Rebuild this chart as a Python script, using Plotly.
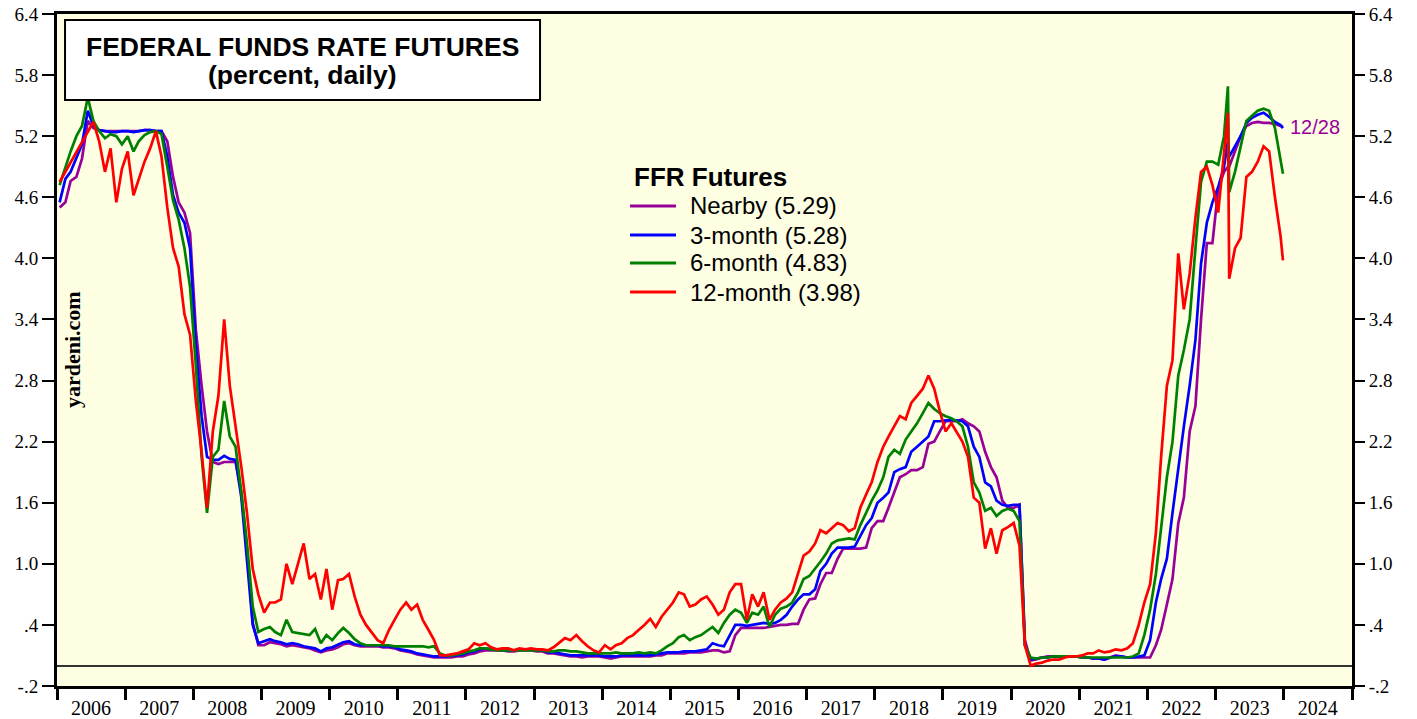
import plotly.graph_objects as go
import pandas as pd

# ---------------- data (monthly mid-points) ----------------
months = [f"{y}-{m:02d}-15" for y in range(2006, 2024) for m in range(1, 13)]
extra_dates = ["2023-03-08", "2023-12-28"]

nearby = [
    4.50, 4.55, 4.76, 4.80, 4.98, 5.35, 5.28, 5.26, 5.25, 5.25, 5.25, 5.25,
    5.25, 5.25, 5.25, 5.26, 5.26, 5.25, 5.25, 5.15, 4.80, 4.55, 4.45, 4.25,
    3.30, 2.75, 2.30, 2.00, 1.98, 2.00, 2.00, 2.00, 1.70, 1.15, 0.42, 0.20,
    0.20, 0.23, 0.22, 0.21, 0.19, 0.20, 0.19, 0.18, 0.17, 0.15, 0.13, 0.15,
    0.16, 0.18, 0.21, 0.22, 0.20, 0.19, 0.19, 0.19, 0.19, 0.18, 0.18, 0.17,
    0.15, 0.14, 0.13, 0.11, 0.10, 0.09, 0.08, 0.08, 0.08, 0.08, 0.09, 0.09,
    0.11, 0.12, 0.14, 0.15, 0.15, 0.15, 0.15, 0.14, 0.14, 0.15, 0.15, 0.15,
    0.14, 0.14, 0.12, 0.12, 0.11, 0.10, 0.09, 0.09, 0.08, 0.09, 0.09, 0.09,
    0.08, 0.07, 0.08, 0.09, 0.09, 0.09, 0.09, 0.09, 0.09, 0.10, 0.10, 0.12,
    0.12, 0.12, 0.12, 0.13, 0.13, 0.13, 0.14, 0.15, 0.15, 0.13, 0.14, 0.30,
    0.37, 0.37, 0.37, 0.37, 0.37, 0.38, 0.39, 0.40, 0.40, 0.41, 0.41, 0.55,
    0.65, 0.66, 0.80, 0.91, 0.91, 1.05, 1.15, 1.15, 1.15, 1.15, 1.16, 1.35,
    1.42, 1.42, 1.55, 1.70, 1.85, 1.88, 1.92, 1.92, 1.95, 2.18, 2.20, 2.30,
    2.40, 2.40, 2.40, 2.42, 2.38, 2.35, 2.30, 2.10, 1.95, 1.85, 1.62, 1.55,
    1.55, 1.58, 0.25, 0.05, 0.06, 0.08, 0.09, 0.09, 0.09, 0.09, 0.09, 0.09,
    0.08, 0.08, 0.07, 0.07, 0.06, 0.08, 0.10, 0.09, 0.08, 0.08, 0.08, 0.08,
    0.08, 0.20, 0.35, 0.60, 0.85, 1.40, 1.65, 2.30, 2.55, 3.40, 4.15, 4.15,
    4.68, 4.85, 4.90, 5.05, 5.20, 5.30, 5.33, 5.34, 5.33, 5.33, 5.32, 5.30,
    4.90, 5.29,
]

three_month = [
    4.55, 4.78, 4.85, 4.98, 5.12, 5.45, 5.30, 5.26, 5.25, 5.24, 5.24, 5.25,
    5.25, 5.24, 5.25, 5.26, 5.26, 5.25, 5.25, 5.00, 4.62, 4.45, 4.35, 4.10,
    3.15, 2.45, 2.05, 2.02, 2.02, 2.06, 2.03, 2.02, 1.65, 1.05, 0.40, 0.22,
    0.24, 0.26, 0.24, 0.23, 0.21, 0.22, 0.21, 0.19, 0.18, 0.17, 0.14, 0.17,
    0.18, 0.21, 0.23, 0.24, 0.21, 0.20, 0.20, 0.20, 0.20, 0.19, 0.19, 0.18,
    0.16, 0.15, 0.14, 0.12, 0.11, 0.10, 0.09, 0.09, 0.09, 0.10, 0.10, 0.11,
    0.13, 0.14, 0.16, 0.17, 0.16, 0.16, 0.15, 0.15, 0.15, 0.16, 0.16, 0.16,
    0.15, 0.15, 0.13, 0.13, 0.12, 0.11, 0.10, 0.10, 0.10, 0.10, 0.10, 0.10,
    0.09, 0.09, 0.09, 0.10, 0.10, 0.10, 0.10, 0.10, 0.10, 0.11, 0.12, 0.13,
    0.13, 0.13, 0.14, 0.14, 0.14, 0.15, 0.16, 0.22, 0.20, 0.19, 0.30, 0.40,
    0.40, 0.39, 0.40, 0.41, 0.42, 0.41, 0.42, 0.45, 0.50, 0.58, 0.65, 0.70,
    0.70, 0.75, 0.93, 1.00, 1.10, 1.16, 1.16, 1.16, 1.17, 1.28, 1.38, 1.45,
    1.60, 1.65, 1.70, 1.90, 1.93, 1.95, 2.10, 2.15, 2.20, 2.25, 2.40, 2.40,
    2.41, 2.41, 2.41, 2.40, 2.35, 2.15, 2.05, 1.80, 1.76, 1.62, 1.58, 1.57,
    1.58, 1.58, 0.20, 0.06, 0.07, 0.08, 0.08, 0.09, 0.09, 0.09, 0.09, 0.09,
    0.08, 0.08, 0.07, 0.07, 0.06, 0.08, 0.09, 0.09, 0.08, 0.08, 0.09, 0.10,
    0.25, 0.62, 0.85, 1.05, 1.50, 1.95, 2.35, 2.75, 3.20, 3.95, 4.35, 4.55,
    4.70, 4.90, 5.00, 5.10, 5.20, 5.33, 5.38, 5.41, 5.43, 5.39, 5.34, 5.31,
    5.15, 5.28,
]

six_month = [
    4.72, 4.90, 5.05, 5.20, 5.30, 5.58, 5.35, 5.25, 5.18, 5.22, 5.20, 5.12,
    5.20, 5.05, 5.15, 5.21, 5.24, 5.25, 5.22, 4.90, 4.57, 4.38, 4.10, 3.72,
    2.95, 2.05, 1.50, 2.05, 2.12, 2.60, 2.25, 2.15, 1.70, 1.20, 0.58, 0.33,
    0.36, 0.38, 0.33, 0.30, 0.45, 0.33, 0.32, 0.31, 0.30, 0.36, 0.22, 0.30,
    0.25, 0.32, 0.37, 0.32, 0.26, 0.22, 0.20, 0.20, 0.20, 0.20, 0.20, 0.19,
    0.19, 0.19, 0.19, 0.19, 0.19, 0.18, 0.19, 0.12, 0.10, 0.10, 0.11, 0.12,
    0.14, 0.15, 0.17, 0.17, 0.16, 0.15, 0.15, 0.15, 0.15, 0.15, 0.15, 0.15,
    0.15, 0.15, 0.14, 0.14, 0.15, 0.15, 0.14, 0.14, 0.13, 0.12, 0.12, 0.12,
    0.12, 0.12, 0.13, 0.12, 0.12, 0.12, 0.13, 0.12, 0.13, 0.12, 0.15, 0.19,
    0.22, 0.28, 0.30, 0.25, 0.28, 0.30, 0.34, 0.38, 0.32, 0.42, 0.50, 0.55,
    0.52, 0.42, 0.52, 0.50, 0.58, 0.38, 0.50, 0.56, 0.58, 0.62, 0.72, 0.85,
    0.88, 0.95, 1.02, 1.10, 1.20, 1.23, 1.24, 1.25, 1.24, 1.38, 1.50, 1.62,
    1.72, 1.85, 2.05, 2.12, 2.08, 2.22, 2.30, 2.38, 2.48, 2.58, 2.52, 2.48,
    2.45, 2.43, 2.40, 2.35, 2.15, 1.80, 1.70, 1.52, 1.55, 1.47, 1.52, 1.54,
    1.52, 1.42, 0.20, 0.08, 0.07, 0.08, 0.08, 0.09, 0.09, 0.09, 0.09, 0.09,
    0.08, 0.08, 0.08, 0.08, 0.08, 0.08, 0.08, 0.08, 0.08, 0.09, 0.12, 0.30,
    0.55, 0.90, 1.35, 1.85, 2.20, 2.85, 3.10, 3.40, 4.10, 4.75, 4.95, 4.95,
    4.92, 5.20, 4.65, 4.85, 5.10, 5.35, 5.40, 5.45, 5.47, 5.45, 5.28, 4.95,
    5.69, 4.83,
]

twelve_month = [
    4.75, None, None, None, None, None, 5.34, 5.15, 4.85, 5.08, 4.55, 4.88,
    5.05, 4.62, 4.78, 4.95, 5.08, 5.25, 5.00, 4.50, 4.10, 3.92, 3.45, 3.25,
    2.60, 2.10, 1.55, 2.30, 2.65, 3.40, 2.75, 2.35, 1.95, 1.50, 0.95, 0.70,
    0.52, 0.62, 0.62, 0.65, 1.00, 0.80, 1.00, 1.20, 0.85, 0.90, 0.65, 0.95,
    0.55, 0.84, 0.85, 0.90, 0.68, 0.50, 0.40, 0.33, 0.25, 0.22, 0.35, 0.45,
    0.55, 0.62, 0.55, 0.60, 0.45, 0.35, 0.25, 0.10, 0.10, 0.11, 0.12, 0.14,
    0.16, 0.22, 0.20, 0.22, 0.18, 0.16, 0.17, 0.17, 0.15, 0.17, 0.16, 0.17,
    0.16, 0.16, 0.15, 0.18, 0.22, 0.27, 0.25, 0.30, 0.24, 0.19, 0.15, 0.13,
    0.20, 0.16, 0.20, 0.22, 0.27, 0.30, 0.35, 0.40, 0.46, 0.38, 0.48, 0.55,
    0.62, 0.72, 0.70, 0.58, 0.60, 0.65, 0.68, 0.60, 0.50, 0.55, 0.72, 0.80,
    0.80, 0.45, 0.70, 0.58, 0.72, 0.45, 0.55, 0.62, 0.66, 0.72, 0.90, 1.08,
    1.12, 1.20, 1.33, 1.30, 1.35, 1.40, 1.38, 1.32, 1.35, 1.55, 1.68, 1.80,
    2.00, 2.15, 2.25, 2.35, 2.45, 2.42, 2.58, 2.65, 2.72, 2.85, 2.72, 2.50,
    2.30, 2.38, 2.30, 2.20, 2.05, 1.65, 1.60, 1.15, 1.35, 1.10, 1.33, 1.36,
    1.40, 1.18, 0.20, 0.00, 0.02, 0.03, 0.05, 0.06, 0.06, 0.08, 0.09, 0.09,
    0.10, 0.12, 0.12, 0.15, 0.13, 0.14, 0.16, 0.15, 0.17, 0.22, 0.40, 0.62,
    0.80, 1.30, 2.05, 2.75, 3.00, 4.05, 3.50, 3.85, 4.40, 4.85, 4.90, 4.72,
    4.45, 5.00, 3.80, 4.10, 4.20, 4.80, 4.85, 4.95, 5.10, 5.05, 4.60, 4.22,
    5.43, 3.98,
]

series_names = ["Nearby (5.29)", "3-month (5.28)", "6-month (4.83)", "12-month (3.98)"]
series_colors = ["#990099", "#0000FF", "#008000", "#FF0000"]
legend_title = "FFR Futures"

ytick_vals = [-0.2, 0.4, 1.0, 1.6, 2.2, 2.8, 3.4, 4.0, 4.6, 5.2, 5.8, 6.4]
ytick_text = ["-.2", ".4", "1.0", "1.6", "2.2", "2.8", "3.4", "4.0", "4.6", "5.2", "5.8", "6.4"]

# ---------------- build table ----------------
df = pd.DataFrame({
    "date": pd.to_datetime(months + extra_dates),
    "nearby": nearby,
    "m3": three_month,
    "m6": six_month,
    "m12": twelve_month,
}).sort_values("date")

fig = go.Figure()
for col, name, color in zip(["nearby", "m3", "m6", "m12"], series_names, series_colors):
    fig.add_trace(go.Scatter(
        x=df["date"], y=df[col], mode="lines", name=name,
        line=dict(color=color, width=2.7), connectgaps=True, showlegend=False,
    ))

# invisible trace for right axis
fig.add_trace(go.Scatter(x=[df["date"].iloc[0]], y=[0], yaxis="y2", mode="markers",
                         marker=dict(opacity=0), showlegend=False, hoverinfo="skip"))

yr = [-0.2, 6.4]
sans = "Liberation Sans, Arial, sans-serif"
serif = "Liberation Serif, Times New Roman, serif"
yfont = dict(family=serif, size=19, color="black")
xfont = dict(family=serif, size=20, color="black")

fig.update_layout(
    width=1417, height=719,
    margin=dict(l=57, r=65, t=14, b=33, autoexpand=False),
    paper_bgcolor="white",
    plot_bgcolor="#FEFEE3",
    showlegend=False,
    xaxis=dict(
        type="date", automargin=False,
        range=["2006-01-01", "2025-01-01"],
        tick0="2006-01-01", dtick="M12",
        ticklabelmode="period", tickformat="%Y",
        ticks="outside", ticklen=11, tickwidth=3, tickcolor="black",
        ticklabelstandoff=-9,
        showgrid=False, zeroline=False,
        showline=True, linecolor="black", linewidth=3, mirror=True,
        tickfont=xfont, ticklabeloverflow="allow",
    ),
    yaxis=dict(
        range=yr, tickvals=ytick_vals, ticktext=ytick_text, automargin=False,
        ticks="outside", ticklen=12, tickwidth=1.5, tickcolor="black",
        showgrid=False,
        zeroline=True, zerolinecolor="#333333", zerolinewidth=1.5,
        showline=True, linecolor="black", linewidth=3, mirror=True,
        tickfont=yfont, ticklabeloverflow="allow",
    ),
    yaxis2=dict(
        range=yr, tickvals=ytick_vals, ticktext=ytick_text, automargin=False,
        overlaying="y", side="right",
        ticks="outside", ticklen=12, tickwidth=1.5, tickcolor="black",
        showgrid=False, zeroline=False, showline=False,
        tickfont=yfont, ticklabeloverflow="allow",
    ),
)

# title box
fig.add_shape(type="rect", xref="paper", yref="paper",
              x0=0.0062, x1=0.373, y0=0.872, y1=0.991,
              line=dict(color="black", width=2), fillcolor="white", layer="above")
fig.add_annotation(xref="paper", yref="paper", x=0.1896, y=0.951,
                   xanchor="center", yanchor="middle",
                   text="<b>FEDERAL FUNDS RATE FUTURES</b>", showarrow=False,
                   font=dict(family=sans, size=26.5, color="black"))
fig.add_annotation(xref="paper", yref="paper", x=0.1896, y=0.909,
                   xanchor="center", yanchor="middle",
                   text="<b>(percent, daily)</b>", showarrow=False,
                   font=dict(family=sans, size=26.5, color="black"))

# legend (drawn as key lines + text)
fig.add_annotation(xref="paper", yref="paper", x=0.444, y=0.7574,
                   xanchor="left", yanchor="middle",
                   text=f"<b>{legend_title}</b>", showarrow=False,
                   font=dict(family=sans, size=26, color="black"))
legend_rows = [0.7143, 0.6711, 0.6295, 0.5863]
for name, color, yy in zip(series_names, series_colors, legend_rows):
    fig.add_shape(type="line", xref="paper", yref="paper",
                  x0=0.4425, x1=0.478, y0=yy, y1=yy,
                  line=dict(color=color, width=3))
    fig.add_annotation(xref="paper", yref="paper", x=0.4873, y=yy,
                       xanchor="left", yanchor="middle",
                       text=name, showarrow=False,
                       font=dict(family=sans, size=24, color="black"))

# yardeni.com vertical label
fig.add_annotation(xref="paper", yref="paper", x=0.0116, y=0.5,
                   xanchor="center", yanchor="middle",
                   text="<b>yardeni.com</b>", textangle=-90, showarrow=False,
                   font=dict(family=serif, size=22, color="black"))

# end-date label
fig.add_annotation(x="2023-12-28", y=nearby[-1], xref="x", yref="y",
                   text="12/28", showarrow=False, xanchor="left", yanchor="middle", xshift=5,
                   font=dict(family=sans, size=20, color="#990099"))

# remove the default 8px page margin so the figure fills the window exactly; no mode bar
fig.write_html("out.html", config={"displayModeBar": False},
               post_script="document.body.style.margin='0px';")
